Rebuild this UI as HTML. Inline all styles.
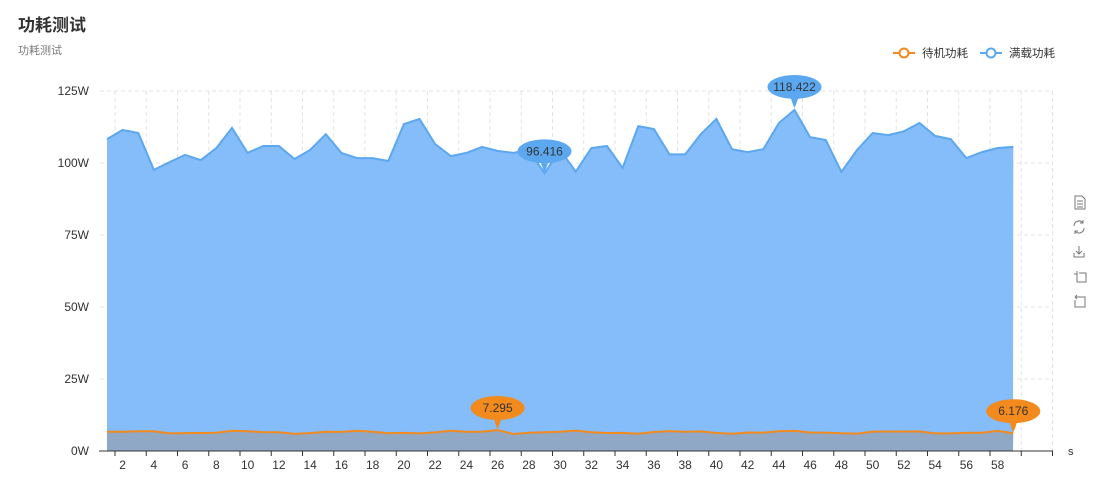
<!DOCTYPE html>
<html><head><meta charset="utf-8"><style>
body{margin:0;background:#fff;font-family:"Liberation Sans","Noto Sans CJK SC",sans-serif}
svg text{font-family:"Liberation Sans","Noto Sans CJK SC",sans-serif}
</style></head><body>
<svg id="s" width="1103" height="496" xmlns="http://www.w3.org/2000/svg">
<text x="18" y="31" font-size="17" font-weight="bold" fill="#333">功耗测试</text>
<text x="18" y="54" font-size="11" fill="#777">功耗测试</text>
<g id="g"></g>
<line x1="893" y1="53" x2="915" y2="53" stroke="#f28a1e" stroke-width="2"/><circle cx="904" cy="53" r="4.5" fill="#fff" stroke="#f28a1e" stroke-width="2"/>
<text x="922" y="57" font-size="11.5" fill="#333">待机功耗</text>
<line x1="980" y1="53" x2="1002" y2="53" stroke="#5ca8f0" stroke-width="2"/><circle cx="991" cy="53" r="4.5" fill="#fff" stroke="#5ca8f0" stroke-width="2"/>
<text x="1009" y="57" font-size="11.5" fill="#333">满载功耗</text>
<g fill="none" stroke="#777" stroke-width="1">
<path d="M1075 196h7l3 3v10h-10z M1077 201h6 M1077 204h6 M1077 207h6"/>
<path d="M1074 226a5 5 0 0 1 9 -3 M1084 228a5 5 0 0 1 -9 3 M1083 220v3h-3 M1075 234v-3h3"/>
<path d="M1079 246v8 M1076 251l3 3 3-3 M1074 253v4h10v-4"/>
<path d="M1077 271v11h9v-9h-7 M1074 274h3"/>
<path d="M1076 297h9v10h-10v-7 M1075 297l2-2 M1075 297l2 2"/>
</g>
</svg>
<script>
var b=[108.3,111.5,110.4,97.6,100.3,102.8,101,105.2,112.2,103.5,105.9,105.9,101.4,104.5,110,103.5,101.7,101.7,100.7,113.5,115.3,106.6,102.4,103.5,105.6,104.2,103.5,104.5,96.416,104.5,97,105.2,105.9,98.3,112.8,111.8,103,103,110,115.3,104.8,103.8,104.8,113.9,118.422,109,108,96.9,104.5,110.4,109.7,111,113.9,109.4,108.3,101.7,103.8,105.2,105.6];
var o=[];for(var i=0;i<59;i++){o.push(6.5+0.4*Math.sin(i*0.9)+0.2*Math.cos(i*2.3));}o[25]=7.295;o[58]=6.176;
function X(i){return 107+i*15.625}function Y(v){return 451-v*2.88}
var h='';
for(var k=0;k<5;k++){var y=91+72*k;h+='<line x1="100" y1="'+y+'" x2="1053" y2="'+y+'" stroke="#e3e3e3" stroke-dasharray="4,3"/>';h+='<text x="89" y="'+(y+4)+'" font-size="12" fill="#333" text-anchor="end">'+(125-25*k)+'W</text>';}
h+='<text x="89" y="455" font-size="12" fill="#333" text-anchor="end">0W</text>';
for(var k=0;k<=30;k++){var x=115+31.25*k;h+='<line x1="'+x+'" y1="91" x2="'+x+'" y2="451" stroke="#e3e3e3" stroke-dasharray="4,3"/>';}
function pts(a){return a.map(function(v,i){return X(i).toFixed(1)+','+Y(v).toFixed(1)}).join(' L')}
h+='<path d="M107,451 L'+pts(b)+' L1013,451Z" fill="#85bcfa"/>';
h+='<path d="M107,451 L'+pts(o)+' L1013,451Z" fill="#8fa8c6"/>';
h+='<path d="M'+pts(b)+'" fill="none" stroke="#5ca8f0" stroke-width="2"/>';
h+='<path d="M'+pts(o)+'" fill="none" stroke="#f28a1e" stroke-width="2"/>';
h+='<line x1="99" y1="451" x2="1053" y2="451" stroke="#333"/>';
for(var k=0;k<=30;k++){var x=115+31.25*k;h+='<line x1="'+x+'" y1="451" x2="'+x+'" y2="456" stroke="#333"/>';}
for(var n=2;n<=58;n+=2){h+='<text x="'+X(n-1)+'" y="469" font-size="12" fill="#333" text-anchor="middle">'+n+'</text>';}
h+='<text x="1068" y="455" font-size="11" fill="#333">s</text>';
function pin(x,ty,c,t){var cy=ty-21;h+='<path d="M'+(x-4)+','+(cy+10)+' Q'+(x-2)+','+(ty-4)+' '+x+','+ty+' Q'+(x+2)+','+(ty-4)+' '+(x+4)+','+(cy+10)+'Z" fill="'+c+'"/><ellipse cx="'+x+'" cy="'+cy+'" rx="27" ry="12" fill="'+c+'"/><text x="'+x+'" y="'+(cy+4)+'" font-size="12" fill="#333" text-anchor="middle">'+t+'</text>';}
pin(X(44),Y(118.422)-2,'#5ca8f0','118.422');
pin(X(28),Y(96.416)-1,'#5ca8f0','96.416');
pin(X(25),Y(7.295)-1,'#f28a1e','7.295');
pin(X(58),Y(6.176)-1,'#f28a1e','6.176');
document.getElementById('g').innerHTML=h;
</script>
</body></html>
